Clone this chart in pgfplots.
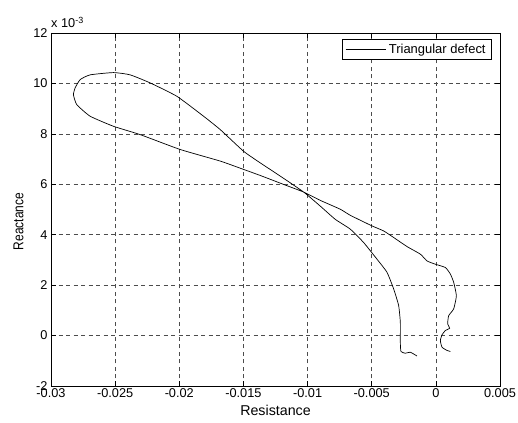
\documentclass[border=0pt]{standalone}
\usepackage{fontspec}
\setmainfont{Liberation Sans}
\usepackage{pgfplots}
\pgfplotsset{compat=1.18}

\begin{document}
\begin{tikzpicture}
\begin{axis}[
    scale only axis,
    width=449bp, height=353bp,
    xmin=-0.03, xmax=0.005,
    ymin=-2, ymax=12,
    scaled x ticks=false,
    scaled y ticks=false,
    xtick={-0.03,-0.025,-0.02,-0.015,-0.01,-0.005,0,0.005},
    xticklabels={-0.03,-0.025,-0.02,-0.015,-0.01,-0.005,0,0.005},
    ytick={-2,0,2,4,6,8,10,12},
    yticklabels={-2,0,2,4,6,8,10,12},
    tick align=inside,
    major tick length=5bp,
    tick style={black, line width=0.6bp},
    grid=major,
    grid style={black!70, dash pattern=on 4bp off 3.5bp, line width=0.7bp},
    axis line style={line width=0.8bp},
    ticklabel style={font=\fontsize{12.8}{14}\selectfont},
    xticklabel style={yshift=1bp},
    xlabel={Resistance},
    ylabel={\scalebox{1}[1.2]{Reactance}},
    xlabel style={font=\fontsize{14.3}{16}\selectfont, yshift=-1bp},
    ylabel style={font=\fontsize{12}{14}\selectfont, yshift=3bp, xshift=-12bp},
    legend style={at={(0.982,0.982)}, anchor=north east, draw=black,
        line width=0.6bp, font=\fontsize{13}{15}\selectfont,
        inner xsep=3bp, inner ysep=2.5bp,
        nodes={inner xsep=3bp, inner ysep=2bp}},
    legend cell align=left,
    legend image code/.code={\draw[#1] (0bp,0bp) -- (40bp,0bp);},
]
\addplot[black, line width=0.7bp, smooth, tension=0.3] coordinates {
(-0.00147,-0.81) (-0.00199,-0.66) (-0.00238,-0.70) (-0.00272,-0.63)
(-0.00277,-0.26) (-0.00277,0.53) (-0.00290,1.19) (-0.00329,1.85)
(-0.00381,2.51) (-0.00459,3.03) (-0.00563,3.69) (-0.00667,4.22)
(-0.00784,4.61) (-0.00900,5.13) (-0.01030,5.69) (-0.01200,6.28)
(-0.01369,6.85) (-0.01499,7.31) (-0.01681,8.17) (-0.01811,8.70)
(-0.02019,9.49) (-0.02227,10.02) (-0.02383,10.34) (-0.02513,10.43)
(-0.02695,10.34) (-0.02773,10.15) (-0.02812,9.82) (-0.02825,9.55)
(-0.02799,9.16) (-0.02695,8.70) (-0.02513,8.30) (-0.02305,7.97)
(-0.01993,7.38) (-0.01681,6.92) (-0.01499,6.59) (-0.01369,6.35)
(-0.01200,6.02) (-0.01030,5.69) (-0.00900,5.36) (-0.00745,5.01)
(-0.00667,4.77) (-0.00498,4.35) (-0.00407,4.15) (-0.00329,3.89)
(-0.00225,3.53) (-0.00121,3.23) (-0.00069,2.96) (-0.00004,2.83)
(0.00074,2.70) (0.00113,2.44) (0.00139,2.11) (0.00160,1.58)
(0.00139,1.06) (0.00100,0.79) (0.00092,0.46) (0.00108,0.29)
(0.00074,0.20) (0.00048,0.03) (0.00035,-0.20) (0.00048,-0.46)
(0.00087,-0.59) (0.00113,-0.63)
};
\addlegendentry{Triangular defect}
\end{axis}
\node[anchor=south west, inner sep=0pt, font=\fontsize{12.8}{14}\selectfont]
    at ([yshift=5bp]current axis.north west) {x 10\textsuperscript{-3}};
\pgfresetboundingbox
\path (current axis.south west) ++(-51bp,-37bp) rectangle ++(518bp,423bp);
\end{tikzpicture}
\end{document}
